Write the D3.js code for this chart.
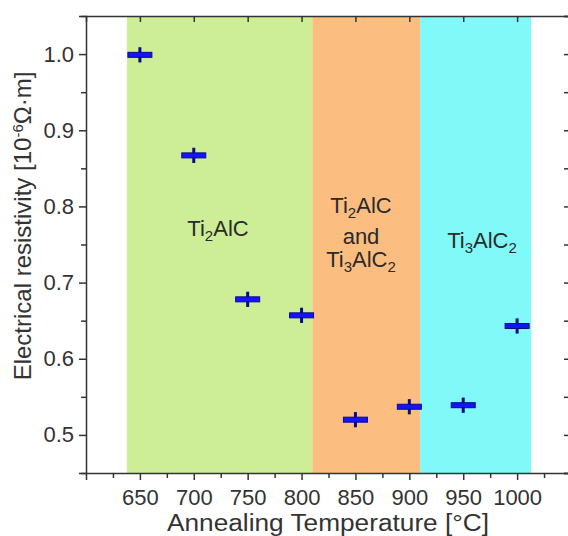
<!DOCTYPE html>
<html><head><meta charset="utf-8">
<script src="https://cdn.jsdelivr.net/npm/d3@7"></script>
<style>body{margin:0;background:#fff}svg{display:block}text{font-family:"Liberation Sans",Arial,sans-serif}</style>
</head><body>
<svg id="c" width="568" height="536"></svg>
<script>
const temperatures = [650, 700, 750, 800, 850, 900, 950, 1000];
const resistivity = [0.999, 0.867, 0.678, 0.657, 0.520, 0.537, 0.539, 0.643];
const errors = [0.010, 0.010, 0.010, 0.010, 0.010, 0.010, 0.010, 0.010];
const xTicks = [650, 700, 750, 800, 850, 900, 950, 1000];
const yTicks = [0.5, 0.6, 0.7, 0.8, 0.9, 1.0];
const regionStart = [638, 810, 910];
const regionEnd = [810, 910, 1013];
const regionColors = ["#cdee96", "#fcbe80", "#80f9f8"];

const svg = d3.select("#c");
const x = d3.scaleLinear().domain([600, 1050]).range([86, 571]);
const y = d3.scaleLinear().domain([0.45, 1.05]).range([473, 16]);
const axisColor = "#333";

// regions
svg.selectAll("rect.region").data(regionStart).enter().append("rect")
  .attr("x", (d) => x(d))
  .attr("y", y(1.05))
  .attr("width", (d, i) => x(regionEnd[i]) - x(d))
  .attr("height", y(0.45) - y(1.05))
  .attr("fill", (d, i) => regionColors[i]);

// axes
const minorX = d3.range(625, 1050, 50);
const minorY = d3.range(0.45, 1.05, 0.1).map(v => +v.toFixed(2));

function styleAxis(g) {
  g.selectAll("path,line").attr("stroke", axisColor).attr("stroke-width", 1.5);
  g.selectAll("text").attr("fill", "#333").style("font-size", "22px")
   .style("font-family", '"Liberation Sans",Arial,sans-serif');
}

const gBottom = svg.append("g").attr("transform", `translate(0,${y(0.45)})`)
  .call(d3.axisBottom(x).tickValues(xTicks).tickFormat(d3.format("d")).tickSizeOuter(0).tickSize(7).tickPadding(9));
styleAxis(gBottom);
svg.append("g").attr("transform", `translate(0,${y(0.45)})`)
  .call(d3.axisBottom(x).tickValues(minorX).tickFormat("").tickSizeOuter(0).tickSize(5))
  .call(g => g.select(".domain").remove()).call(styleAxis);

const gLeft = svg.append("g").attr("transform", `translate(${x(600)},0)`)
  .call(d3.axisLeft(y).tickValues(yTicks).tickFormat(d3.format(".1f")).tickSizeOuter(0).tickSize(7).tickPadding(5));
styleAxis(gLeft);
svg.append("g").attr("transform", `translate(${x(600)},0)`)
  .call(d3.axisLeft(y).tickValues(minorY).tickFormat("").tickSizeOuter(0).tickSize(5))
  .call(g => g.select(".domain").remove()).call(styleAxis);

const gTop = svg.append("g").attr("transform", `translate(0,${y(1.05)})`)
  .call(d3.axisBottom(x).tickValues(xTicks).tickFormat("").tickSizeOuter(0).tickSize(6));
styleAxis(gTop);

const gRight = svg.append("g").attr("transform", `translate(${x(1050)},0)`)
  .call(d3.axisLeft(y).tickValues(yTicks.concat(minorY)).tickFormat("").tickSizeOuter(0).tickSize(7));
styleAxis(gRight);

// error bars and markers
const pts = svg.append("g");
temperatures.forEach((t, i) => {
  pts.append("line")
    .attr("x1", x(t)).attr("x2", x(t))
    .attr("y1", y(resistivity[i] - errors[i])).attr("y2", y(resistivity[i] + errors[i]))
    .attr("stroke", "#0a0a8a").attr("stroke-width", 3);
  pts.append("rect")
    .attr("x", x(t) - 12).attr("y", y(resistivity[i]) - 2.5)
    .attr("width", 24).attr("height", 5)
    .attr("fill", "#1414ff").attr("stroke", "#0a0a8a").attr("stroke-width", 1);
});

// region labels
function chem(g, cx, cy, parts) {
  const t = g.append("text").attr("x", cx).attr("y", cy).attr("text-anchor", "middle")
    .attr("fill", "#2a2a2a").style("font-size", "22px");
  parts.forEach(p => {
    if (p.sub) {
      t.append("tspan").text(p.t).attr("dy", 5).style("font-size", "15px");
    } else {
      t.append("tspan").text(p.t).attr("dy", p.after ? -5 : 0);
    }
  });
}
const lbl = svg.append("g");
chem(lbl, 218, 236, [{t:"Ti"},{t:"2",sub:true},{t:"AlC",after:true}]);
chem(lbl, 361, 213, [{t:"Ti"},{t:"2",sub:true},{t:"AlC",after:true}]);
lbl.append("text").attr("x", 361).attr("y", 244).attr("text-anchor","middle").attr("fill","#2a2a2a").style("font-size","22px").text("and");
chem(lbl, 361, 267, [{t:"Ti"},{t:"3",sub:true},{t:"AlC",after:true},{t:"2",sub:true}]);
chem(lbl, 482, 248, [{t:"Ti"},{t:"3",sub:true},{t:"AlC",after:true},{t:"2",sub:true}]);

// axis titles
svg.append("text").attr("x", 328).attr("y", 531).attr("text-anchor", "middle")
  .attr("fill", "#333").style("font-size", "23px")
  .attr("textLength", 322).attr("lengthAdjust", "spacingAndGlyphs")
  .text("Annealing Temperature [°C]");
const yt = svg.append("text").attr("transform", "translate(31,226) rotate(-90)")
  .attr("text-anchor", "middle").attr("fill", "#333").style("font-size", "24px");
yt.append("tspan").text("Electrical resistivity [10");
yt.append("tspan").text("-6").attr("dy", -8).style("font-size", "15px");
yt.append("tspan").text("Ω·m]").attr("dy", 8);
</script>
</body></html>
